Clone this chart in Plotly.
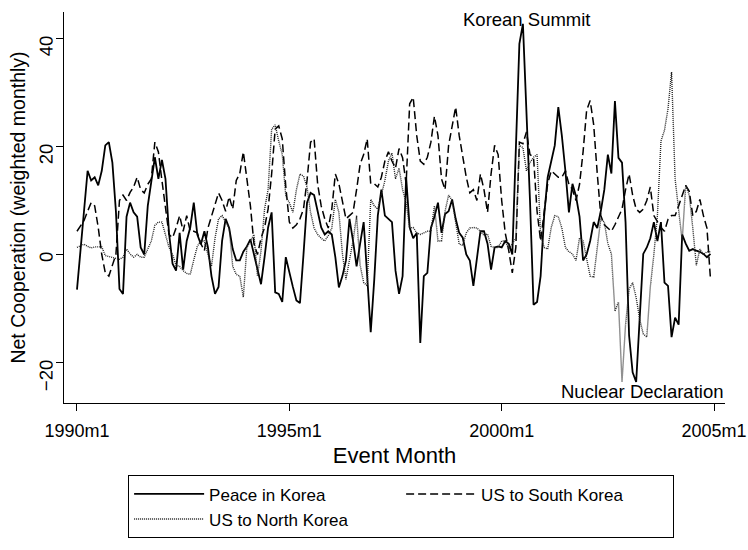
import plotly.graph_objects as go

# month index 0 = 1990m1 ... 179 = 2004m12
months = list(range(180))

peace = [
    -6.5, 1, 8, 15.5, 13.7, 14.3, 12.8, 15.5, 20.2, 20.8,
    17, 8, -6.4, -7.3, 7, 9.6, 7.8, 7, 1.3, 0,
    9, 14, 18, 14, 17.5, 14, 4, -1.7, -3, 4,
    -2.8, 2.5, 5, 9.6, 3.7, 1.9, 4.3, 1.3, -4, -7.3,
    -6, 2.5, 6.6, 4.9, 1, -1.1, -1.1, 0.5, 1.5, 2.8,
    0, -2.2, -5.5, -0.5, 5, 7.8, -7, -7.3, -8.8, -0.5,
    -3.4, -6, -8.5, -9, 0, 9.6, 11.4, 11, 8, 5,
    3.7, 4.3, 3.7, -0.5, -6.1, -4, -1.1, 6.6, 2.5, -2.2,
    2, 6, -4, -14.4, -4.6, 7.2, 12, 7.2, 6.6, 6,
    -3, -7.3, -4, 14.3, 5, 3, 4, -16.4, -4, -3.4,
    4.9, 7, 9.6, 4, 7.5, 8, 10.2, 6.6, 4, 3.1,
    0, -1.1, -5.8, -1, 4.3, 4.3, 2, -2.8, 1.3, 1.5,
    1.3, 2.5, 2, 0, 20, 39, 42.7, 27.3, 10, -9.3,
    -8.8, -4, 7.2, 14.3, 17, 20.2, 27.3, 22, 15.5, 7.8,
    13.1, 10.8, 7, -1.1, 0, 2.5, 6, 4.9, 8, 12,
    18.5, 15, 28.4, 17.9, 17, 6, -15, -21.8, -23.6, -12,
    0.1, 1.3, 3, 6, 2.5, 6, -5.2, -5.8, -15.3, -11.7,
    -13, 3.7, 2, 0.7, 1, 0.7, 0.5, 0.1, -0.5, 0.1,
]

us_south = [
    4.3, 5.3, 6.3, 8, 9.6, 9, 5, 0, -3.4, -4,
    -2, 0, 10, 11, 10, 11.5, 12.5, 14.3, 12, 11.4,
    13, 14, 20.8, 19, 13.7, 9, 3.7, 3.1, 4.9, 7.2,
    4.3, 7.2, 4.3, 4.3, 4, 2, 0.7, 4.9, 7.2, 9.6,
    11.4, 10, 8, 10.7, 8.4, 13.7, 15, 19, 14, 9,
    2, 0, 3, 5, 8.4, 14.9, 23.2, 23.8, 21.4, 12.5,
    6, 4.9, 5.5, 6.6, 8.4, 13.7, 20.8, 21.4, 13, 9,
    6.6, 4.9, 8.4, 14.9, 13.1, 10, 6.6, 7.2, 7.8, 12,
    16.7, 18.5, 21.4, 13.1, 13.1, 12.5, 14.3, 17.3, 19, 17.3,
    16, 19.6, 17.9, 13.1, 27.9, 29.1, 22, 17.3, 16.7, 18,
    20.8, 25.6, 22, 14, 12, 20.2, 23.8, 27.3, 22, 18,
    14.3, 11.4, 12, 10, 14.9, 12, 7.8, 14.9, 20.2, 18.5,
    10, 4, 0.7, -3.4, 1.3, 20.8, 20.5, 22.7, 18.5, 18,
    8, 2.5, 8, 13.1, 15.5, 14.9, 14.3, 14.3, 15.5, 13,
    12, 10, 13, 19, 26.7, 28.5, 24, 15, 7.2, 5.5,
    4.9, 4.3, 5.5, 7, 8.4, 12, 14.9, 11, 8.4, 7.8,
    8.4, 10, 12.5, 7.2, 6, 5, 4.3, 6.5, 7.2, 7.2,
    9, 11, 12.8, 11.7, 7.2, 8, 10.2, 7.2, 4.9, -4.6,
]

us_north = [
    1.3, 1.6, 1.9, 1.5, 1.2, 1.4, 1.4, 1.4, -0.2, -0.4,
    -0.5, -0.8, -0.9, -0.5, 1, 0.1, -0.5, 0, -0.5, -0.5,
    1, 2.5, 5.4, 6, 6, 3.7, 1.3, 0, -2, -2.2,
    -3, -3.5, -3.7, -1, 1.5, 2.5, 2.5, 0, -2.2, 3,
    6.6, 7.2, 6, 4.9, -2.2, -3.7, -4, -7.9, 1.3, 2.5,
    3.7, -4, 0.7, 8.4, 12, 23.2, 24, 21, 18.5, 10.8,
    9.6, 7.8, 12, 14.9, 14.5, 12.5, 7.8, 4.9, 3.7, 3,
    2.5, 3.5, 4.9, 10.2, 7.8, 0.1, -4.6, -1, 2.5, 7.2,
    -2, -5.2, -5.8, 10.2, 9, 8.4, 10.8, 13.7, 17.3, 18.8,
    14, 16, 12, 9.6, 4.9, 5, 4, 3.7, 4, 4.3,
    4.3, 9, 2.5, 2.5, 8, 11, 10, 6, 1.9, 1.7,
    4, 4.9, 5, 4.9, 4.3, 3.5, 3.8, 1.5, 1.3, 1.3,
    2.5, 2.5, 1, 2, 3, 20.2, 19.8, 15.5, 17, 18,
    18.5, 3.7, 1.3, 1, 5, 7.2, 7, 4.9, 1.3, 0.5,
    0.1, -1.1, 3.1, 2.5, -1, -4, -4.2, 1, 6.6, 6,
    2, 0.1, -10.5, -8.8, -23.6, -13, -6.4, -5.2, -8, -12,
    -14.7, -15.3, -6, 0, 7.2, 21, 23, 27, 33.8, 14,
    8, 2.5, 12.8, 11, 4.9, -2, 1, 0, 0.5, 0.5,
]

x_tickvals = [0, 60, 120, 180]
x_ticktext = ["1990m1", "1995m1", "2000m1", "2005m1"]
y_tickvals = [-20, 0, 20, 40]

FONT = "Liberation Sans, Arial, sans-serif"
FS = 18.5

fig = go.Figure()
fig.add_trace(go.Scatter(x=months, y=peace, mode="lines", name="Peace in Korea",
                         line=dict(color="black", width=1.8)))
fig.add_trace(go.Scatter(x=months, y=us_south, mode="lines", name="US to South Korea",
                         line=dict(color="black", width=1.5, dash="8px,4px")))
fig.add_trace(go.Scatter(x=months, y=us_north, mode="lines", name="US to North Korea",
                         line=dict(color="#222222", width=1.4, dash="1px,1px")))

fig.add_annotation(x=127.2, y=43.5, text="Korean Summit", showarrow=False,
                   xanchor="center", yanchor="middle", font=dict(size=FS))
fig.add_annotation(x=159.6, y=-25.3, text="Nuclear Declaration", showarrow=False,
                   xanchor="center", yanchor="middle", font=dict(size=FS))

fig.update_layout(
    width=748, height=550,
    margin=dict(l=64, r=23, t=12, b=133),
    paper_bgcolor="white", plot_bgcolor="white",
    font=dict(family=FONT, size=FS, color="black"),
    showlegend=True,
    legend=dict(orientation="h", x=0.097, y=-0.185, xanchor="left", yanchor="top",
                bordercolor="black", borderwidth=1, itemwidth=70, entrywidth=187,
                font=dict(size=17), bgcolor="white"),
)
fig.update_xaxes(range=[-3.67, 183.1], tickvals=x_tickvals, ticktext=x_ticktext,
                 ticks="outside", ticklen=7, tickcolor="black", showline=True,
                 linecolor="black", linewidth=1, showgrid=False, zeroline=False,
                 automargin=False, tickfont=dict(size=18), ticklabeloverflow="allow",
                 ticklabelstandoff=4,
                 title=dict(text="Event Month", standoff=8))
fig.update_yaxes(range=[-27.5, 44.9], tickvals=y_tickvals, tickangle=-89.9,
                 ticks="outside", ticklen=7, tickcolor="black", showline=True,
                 linecolor="black", linewidth=1, showgrid=False, zeroline=False,
                 automargin=False, ticklabelstandoff=9,
                 title=dict(text="Net Cooperation (weighted monthly)", standoff=4,
                            font=dict(size=19.5)))

fig.write_html("out.html",
               config={"displayModeBar": False},
               post_script="document.body.style.margin='0';")
